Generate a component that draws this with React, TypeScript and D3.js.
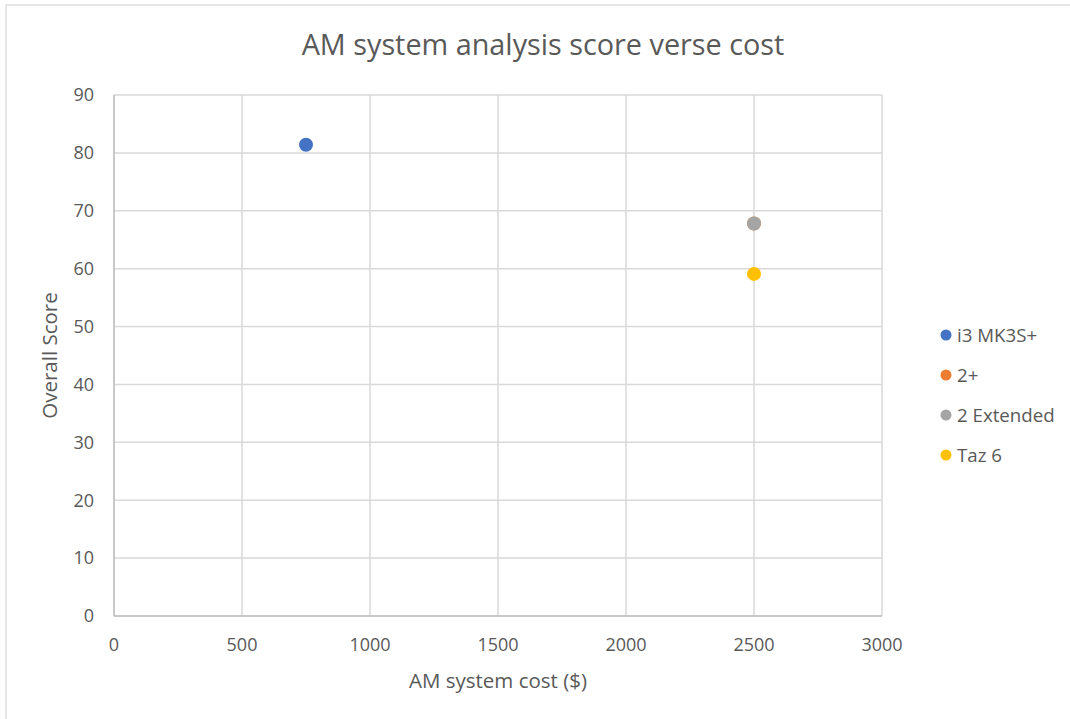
import React from "react";
import * as d3 from "d3";

const seriesNames = ["i3 MK3S+", "2+", "2 Extended", "Taz 6"];
const seriesCost = [750, 2500, 2500, 2500];
const seriesScore = [81.4, 67.8, 67.8, 59.1];
const seriesColors = ["#4472C4", "#ED7D31", "#A5A5A5", "#FFC000"];
const xTicks = [0, 500, 1000, 1500, 2000, 2500, 3000];
const yTicks = [0, 10, 20, 30, 40, 50, 60, 70, 80, 90];

const W = 1070;
const H = 719;
const FONT = "'Open Sans', 'Liberation Sans', sans-serif";
const TEXT = "#595959";
const GRID = "#D9D9D9";

export default function App() {
  const x = d3.scaleLinear().domain([0, 3000]).range([114, 882]);
  const y = d3.scaleLinear().domain([0, 90]).range([616, 95]);

  return (
    <svg
      width={W}
      height={H}
      style={{ position: "absolute", left: 0, top: 0, background: "#fff" }}
      fontFamily={FONT}
    >
      <rect x={0} y={0} width={W} height={H} fill="#fff" />
      <rect x={6} y={5} width={1100} height={740} fill="#fff" stroke="#D9D9D9" strokeWidth={1.3} />
      <text x={543} y={55} textAnchor="middle" fontSize={28.8} fill={TEXT}>
        AM system analysis score verse cost
      </text>
      {yTicks.map((t) => (
        <line key={"gy" + t} x1={x(0)} x2={x(3000)} y1={y(t)} y2={y(t)} stroke={GRID} strokeWidth={1.5} />
      ))}
      {xTicks.map((t) => (
        <line key={"gx" + t} x1={x(t)} x2={x(t)} y1={y(0)} y2={y(90)} stroke={GRID} strokeWidth={1.5} />
      ))}
      <line x1={x(0)} x2={x(0)} y1={y(0)} y2={y(90)} stroke="#BFBFBF" strokeWidth={1.5} />
      <line x1={x(0)} x2={x(3000)} y1={y(0)} y2={y(0)} stroke="#BFBFBF" strokeWidth={1.5} />
      {yTicks.map((t) => (
        <text key={"ty" + t} x={94} y={y(t)} dy="0.35em" textAnchor="end" fontSize={18} fill={TEXT}>
          {t}
        </text>
      ))}
      {xTicks.map((t) => (
        <text key={"tx" + t} x={x(t)} y={651} textAnchor="middle" fontSize={18} fill={TEXT}>
          {t}
        </text>
      ))}
      <text x={498} y={688} textAnchor="middle" fontSize={20.5} fill={TEXT}>
        AM system cost ($)
      </text>
      <text
        transform={`translate(57, ${(y(0) + y(90)) / 2}) rotate(-90)`}
        textAnchor="middle"
        fontSize={20.5}
        fill={TEXT}
      >
        Overall Score
      </text>
      {seriesNames.map((n, i) => (
        <circle key={"p" + n} cx={x(seriesCost[i])} cy={y(seriesScore[i])} r={7} fill={seriesColors[i]} />
      ))}
      {seriesNames.map((n, i) => (
        <g key={"l" + n} transform={`translate(946, ${335 + i * 40})`}>
          <circle cx={0} cy={0} r={5.5} fill={seriesColors[i]} />
          <text x={11} y={0} dy="0.35em" fontSize={18.7} fill={TEXT}>
            {n}
          </text>
        </g>
      ))}
    </svg>
  );
}
